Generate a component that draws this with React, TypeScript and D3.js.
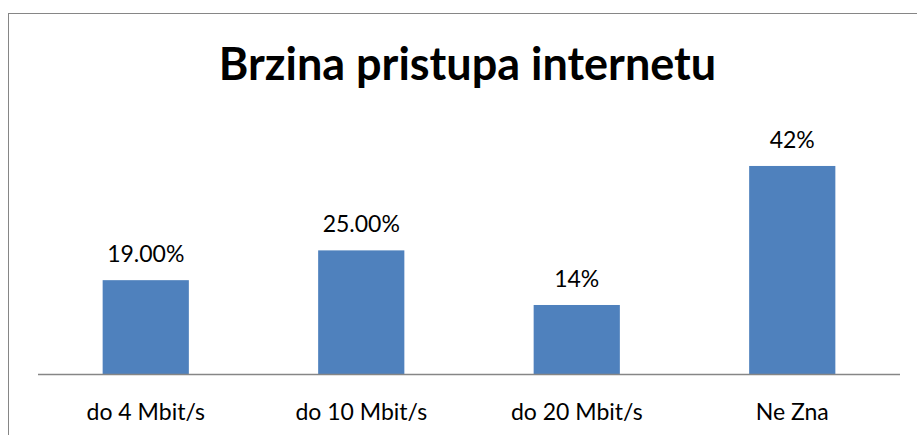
import React, { useEffect, useRef } from 'react';
import * as d3 from 'd3';

const categories = ['do 4 Mbit/s', 'do 10 Mbit/s', 'do 20 Mbit/s', 'Ne Zna'];
const values = [19, 25, 14, 42];
const valueLabels = ['19.00%', '25.00%', '14%', '42%'];
const title = 'Brzina pristupa internetu';

const App = () => {
  const ref = useRef<SVGSVGElement | null>(null);

  useEffect(() => {
    if (!ref.current) return;
    const W = 917, H = 435;
    const font = 'Lato, "Open Sans", sans-serif';

    const svg = d3.select(ref.current);
    svg.selectAll('*').remove();

    svg.append('rect')
      .attr('width', W).attr('height', H)
      .attr('fill', '#fff');

    // chart frame (runs off the right and bottom edge)
    svg.append('rect')
      .attr('x', 8.5).attr('y', 13.5)
      .attr('width', W).attr('height', H)
      .attr('fill', 'none')
      .attr('stroke', '#868686')
      .attr('stroke-width', 1);

    svg.append('text')
      .attr('x', 467.5).attr('y', 80)
      .attr('text-anchor', 'middle')
      .style('font-family', font)
      .style('font-weight', 700)
      .style('font-size', '45px')
      .attr('fill', '#000')
      .text(title);

    const left = 38, right = 900, baseY = 374.5;

    const x = d3.scaleBand<string>()
      .domain(categories)
      .range([left, right])
      .paddingInner(0.6)
      .paddingOuter(0.3);

    const y = d3.scaleLinear()
      .domain([0, 45])
      .range([baseY, baseY - 45 * 4.965]);

    const rows = categories.map((c, i) => ({ c, v: values[i], label: valueLabels[i] }));

    svg.selectAll('rect.bar')
      .data(rows)
      .enter()
      .append('rect')
      .attr('class', 'bar')
      .attr('x', d => x(d.c)!)
      .attr('y', d => y(d.v))
      .attr('width', x.bandwidth())
      .attr('height', d => baseY - y(d.v))
      .attr('fill', '#4F81BD');

    svg.append('line')
      .attr('x1', left).attr('x2', right)
      .attr('y1', baseY).attr('y2', baseY)
      .attr('stroke', '#868686')
      .attr('stroke-width', 1.5);

    svg.selectAll('text.val')
      .data(rows)
      .enter()
      .append('text')
      .attr('class', 'val')
      .attr('x', d => x(d.c)! + x.bandwidth() / 2)
      .attr('y', d => y(d.v) - 18)
      .attr('text-anchor', 'middle')
      .style('font-family', font)
      .style('font-size', '23px')
      .attr('fill', '#000')
      .text(d => d.label);

    svg.selectAll('text.cat')
      .data(rows)
      .enter()
      .append('text')
      .attr('class', 'cat')
      .attr('x', d => x(d.c)! + x.bandwidth() / 2)
      .attr('y', 420)
      .attr('text-anchor', 'middle')
      .style('font-family', font)
      .style('font-size', '23px')
      .attr('fill', '#000')
      .text(d => d.c);
  }, []);

  return (
    <svg
      ref={ref}
      width={917}
      height={435}
      style={{ position: 'absolute', left: 0, top: 0, display: 'block' }}
    />
  );
};

export default App;
